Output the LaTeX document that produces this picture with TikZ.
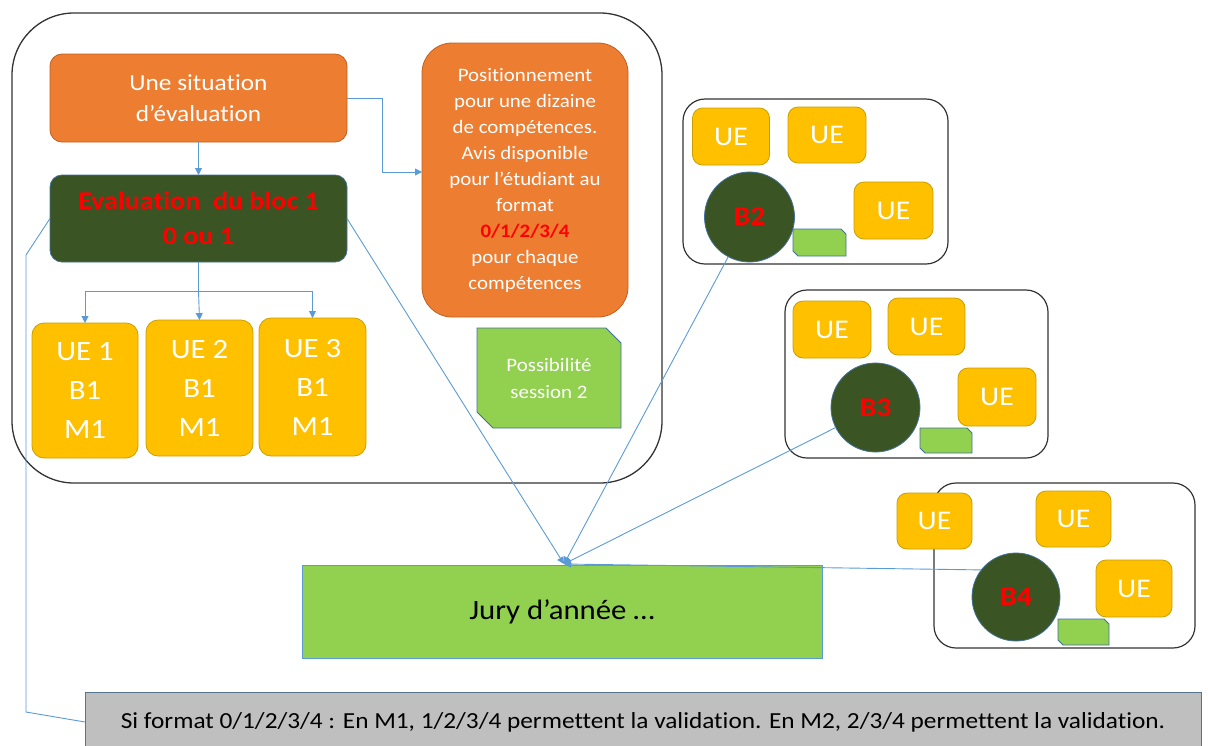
\documentclass[tikz,border=0pt]{standalone}
\usepackage{fontspec}
\setmainfont{Carlito}[FakeStretch=1.1,Ligatures=NoCommon]
\usetikzlibrary{arrows.meta,calc}
\definecolor{orng}{HTML}{ED7D31}
\definecolor{orngb}{HTML}{C06020}
\definecolor{dkgreen}{HTML}{3A5424}
\definecolor{ltgreen}{HTML}{92D050}
\definecolor{gold}{HTML}{FFC000}
\definecolor{goldb}{HTML}{C9A000}
\definecolor{bluel}{HTML}{5B9BD5}
\definecolor{blueb}{HTML}{41719C}
\definecolor{grayf}{HTML}{BFBFBF}
\definecolor{redt}{HTML}{FF0000}
\definecolor{edge}{HTML}{333333}
\tikzset{
  box/.style={draw, line width=0.8pt, inner sep=0pt, outer sep=0pt, align=center, text=white},
  orangebox/.style={box, fill=orng, draw=orngb},
  evalbox/.style={box, fill=dkgreen, draw=blueb, rounded corners=12pt, text=redt,
    font=\fontsize{25.5}{35}\selectfont\bfseries},
  uebox/.style={box, fill=gold, draw=goldb, rounded corners=12pt},
  uebig/.style={uebox, font=\fontsize{28}{39}\selectfont},
  uesmall/.style={uebox, rounded corners=10pt, font=\fontsize{27}{30}\selectfont},
  bcirc/.style={box, circle, fill=dkgreen, draw=blueb, text=redt, font=\fontsize{27}{30}\selectfont\bfseries},
  snipshape/.style={fill=ltgreen, draw=blueb, line width=0.8pt},
  grp/.style={draw=edge, line width=1.2pt, rounded corners=22pt},
  conn/.style={draw=bluel, line width=0.9pt},
  arr/.style={conn, -{Triangle[width=7pt,length=7pt]}},
}
\begin{document}
\begin{tikzpicture}[x=1pt,y=-1pt]
\useasboundingbox (0,0) rectangle (1208,745);

% outer group
\draw[draw=edge, line width=1.3pt, rounded corners=62pt] (12,13) rectangle (662,483);

% left column
\node[orangebox, rounded corners=12pt, minimum width=297pt, minimum height=88pt,
  font=\fontsize{23}{31}\selectfont] (sit) at (198.5,98) {Une situation\\d’évaluation};
\node[evalbox, minimum width=297pt, minimum height=87pt] (eval) at (198.5,218.5)
  {Evaluation~ du bloc 1\\0 ou 1};

\node[uebig, minimum width=106pt, minimum height=135pt] (ue1) at (85,390.5) {UE 1\\B1\\M1};
\node[uebig, minimum width=107pt, minimum height=136pt] (ue2) at (199.5,388) {UE 2\\B1\\M1};
\node[uebig, minimum width=107pt, minimum height=138pt] (ue3) at (312.5,387) {UE 3\\B1\\M1};

% right column of outer group
\node[orangebox, rounded corners=30pt, minimum width=206pt, minimum height=274pt,
  font=\fontsize{19}{26}\selectfont] (pos) at (525,180)
  {Positionnement\\pour une dizaine\\de compétences.\\Avis disponible\\pour l’étudiant au\\format\\{\bfseries\color{redt}0/1/2/3/4}\\pour chaque\\compétences};

\draw[snipshape] (477,328) -- (606,328) -- (621,343) -- (621,428) -- (493,428) -- (477,412) -- cycle;
\node[text=white, align=center, font=\fontsize{19}{27}\selectfont] (poss) at (549,378) {Possibilité\\session 2};

% group B2
\draw[grp] (683,99) rectangle (948,264);
\node[bcirc, minimum size=90pt] (b2) at (749.5,217) {B2};
\draw[snipshape] (793,229) -- (841,229) -- (846,234) -- (846,256) -- (798,256) -- (793,251) -- cycle;
\node[uesmall, minimum width=77pt, minimum height=57pt] (u21) at (731,136.5) {UE};
\node[uesmall, minimum width=78pt, minimum height=56pt] (u22) at (827,135) {UE};
\node[uesmall, minimum width=79pt, minimum height=57pt] (u23) at (893.5,210.5) {UE};

% group B3
\draw[grp] (785,290) rectangle (1048,458);
\node[bcirc, minimum size=89pt] (b3) at (875.5,407.5) {B3};
\draw[snipshape] (920,428) -- (967,428) -- (972,433) -- (972,453) -- (925,453) -- (920,448) -- cycle;
\node[uesmall, minimum width=78pt, minimum height=57pt] (u31) at (832,329.5) {UE};
\node[uesmall, minimum width=77pt, minimum height=57pt] (u32) at (926.5,326.5) {UE};
\node[uesmall, minimum width=78pt, minimum height=58pt] (u33) at (997,397) {UE};

% group B4
\draw[grp] (934,483) rectangle (1195,648);
\node[bcirc, minimum size=88pt] (b4) at (1016,597) {B4};
\draw[snipshape] (1058,619) -- (1104,619) -- (1109,624) -- (1109,645) -- (1063,645) -- (1058,640) -- cycle;
\node[uesmall, minimum width=75pt, minimum height=56pt] (u41) at (934.5,521) {UE};
\node[uesmall, minimum width=75pt, minimum height=56pt] (u42) at (1073.5,519) {UE};
\node[uesmall, minimum width=76pt, minimum height=57pt] (u43) at (1134,588.5) {UE};

% jury
\node[box, fill=ltgreen, draw=bluel, minimum width=520pt, minimum height=93pt, text=black,
  font=\fontsize{28}{32}\selectfont] (jury) at (562,611.5) {Jury d’année …};
\coordinate (jt) at (564,564);

% bottom note
\node[box, fill=grayf, draw=blueb!70!gray, minimum width=1116pt, minimum height=60pt, text=black,
  font=\fontsize{23}{26}\selectfont] (note) at (643,722) {Si format 0/1/2/3/4 : En M1, 1/2/3/4 permettent la validation. En M2, 2/3/4 permettent la validation.};

% connectors
\draw[arr] (sit) -- (eval);
\coordinate (pin) at (422,172);
\draw[arr] (sit.east) -- ++(35,0) |- (pin);
\coordinate (split) at (198.5,291);
\draw[conn] (eval.south) -- (split);
\draw[arr] (split) -| (ue1.north);
\draw[arr] (split) -- (ue2.north);
\draw[arr] (split) -| (ue3.north);
\draw[conn] (eval.west) -- (26,255) -- (26,712) -- (note.west);
\draw[arr] (eval.east) -- (jt);
\draw[arr] (b2) -- (jt);
\draw[arr] (b3) -- (jt);
\draw[arr] (b4.142) -- (jt);
\end{tikzpicture}
\end{document}
